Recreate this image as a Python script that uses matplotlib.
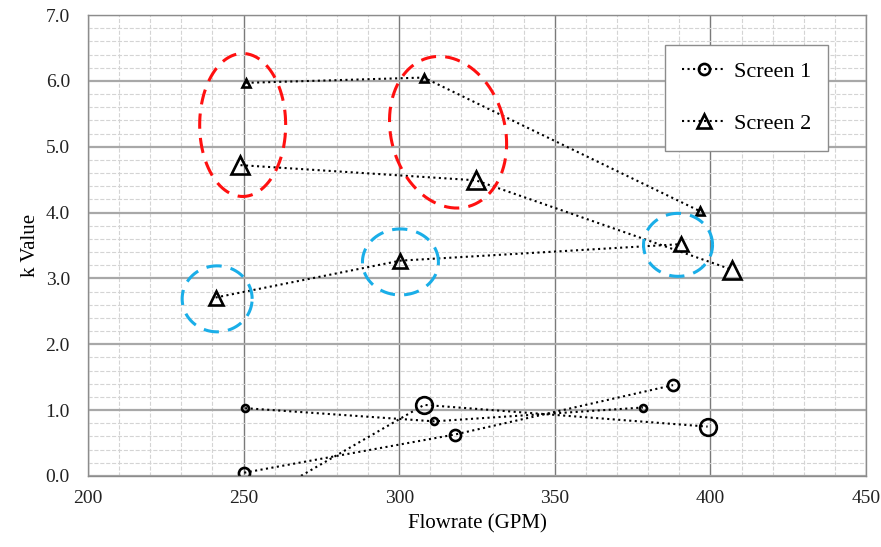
import numpy as np
import matplotlib
matplotlib.use("Agg")
import matplotlib.pyplot as plt
from matplotlib.ticker import MultipleLocator, FormatStrFormatter

plt.rcParams['font.family'] = ['Liberation Serif', 'DejaVu Serif']

# Screen 1 (circles), three runs with different marker sizes
s1_small_x = [250.5, 311.2, 378.3]
s1_small_k = [1.03, 0.83, 1.04]
s1_mid_x = [250.2, 317.9, 388.0]
s1_mid_k = [0.05, 0.63, 1.38]
s1_big_x = [250.0, 308.0, 399.1]
s1_big_k = [-0.50, 1.08, 0.75]

# Screen 2 (triangles)
s2_small_x = [250.8, 307.9, 396.7]
s2_small_k = [5.97, 6.05, 4.02]
s2_mid_x = [241.0, 300.4, 390.4]
s2_mid_k = [2.71, 3.27, 3.52]
s2_big_x = [249.0, 324.6, 407.1]
s2_big_k = [4.72, 4.49, 3.13]

# highlight ellipses: center (GPM, k), width/height in pixels, angle
red_rings = [((249.7, 5.33), 86, 143, 0), ((315.7, 5.22), 114, 154, 15)]
blue_rings = [((241.5, 2.69), 70, 66, 0), ((300.4, 3.25), 76, 66, 0), ((389.6, 3.51), 69, 63, 0)]

fig = plt.figure(figsize=(8.81, 5.47), dpi=100)
ax = fig.add_axes([88/881, 71/547, (866-88)/881, (476-15)/547])

xmin, xmax, ymin, ymax = 200, 450, 0, 7
ax.set_xlim(xmin, xmax)
ax.set_ylim(ymin, ymax)

line_kw = dict(color='black', linestyle=':', linewidth=1.5, markerfacecolor='none',
               markeredgecolor='black', markeredgewidth=1.9)

ax.plot(s1_small_x, s1_small_k, marker='o', markersize=5, **line_kw)
ax.plot(s1_mid_x, s1_mid_k, marker='o', markersize=8, label='Screen 1', **line_kw)
ax.plot(s1_big_x, s1_big_k, marker='o', markersize=12, **line_kw)

ax.plot(s2_small_x, s2_small_k, marker='^', markersize=6, **line_kw)
ax.plot(s2_mid_x, s2_mid_k, marker='^', markersize=10, label='Screen 2', **line_kw)
ax.plot(s2_big_x, s2_big_k, marker='^', markersize=13, **line_kw)

# ellipses drawn in pixel space so the tilt looks right
ax_w_px = (866 - 88)
ax_h_px = (476 - 15)
ppx = ax_w_px / (xmax - xmin)
ppy = ax_h_px / (ymax - ymin)
t = np.linspace(0, 2*np.pi, 300)

def ring(center, w, h, ang, color):
    a = np.deg2rad(ang)
    px = (w/2)*np.cos(t)
    py = (h/2)*np.sin(t)
    rx = px*np.cos(a) - py*np.sin(a)
    ry = px*np.sin(a) + py*np.cos(a)
    ax.plot(center[0] + rx/ppx, center[1] + ry/ppy, color=color, linewidth=2.2,
            linestyle=(0, (5, 3)), zorder=5)

for c, w, h, ang in red_rings:
    ring(c, w, h, ang, '#ff1010')
for c, w, h, ang in blue_rings:
    ring(c, w, h, ang, '#1aaee8')

# grid
ax.xaxis.set_major_locator(MultipleLocator(50))
ax.xaxis.set_minor_locator(MultipleLocator(10))
ax.yaxis.set_major_locator(MultipleLocator(1))
ax.yaxis.set_minor_locator(MultipleLocator(0.2))
ax.yaxis.set_major_formatter(FormatStrFormatter('%.1f'))
ax.grid(which='minor', color='#d4d4d4', linestyle='--', linewidth=0.8)
ax.grid(which='major', axis='x', color='#7a7a7a', linewidth=1.0)
ax.grid(which='major', axis='y', color='#a8a8a8', linewidth=1.6)
ax.set_axisbelow(True)
ax.tick_params(which='both', length=0, labelsize=14, colors='#222222')
ax.tick_params(axis='x', pad=10)
ax.tick_params(axis='y', pad=13)
for sp in ax.spines.values():
    sp.set_color('#8c8c8c')
    sp.set_linewidth(1.0)

ax.set_xlabel('Flowrate (GPM)', fontsize=15, labelpad=5)
ax.set_ylabel('k Value', fontsize=15, labelpad=4)

leg = ax.legend(loc='upper right', bbox_to_anchor=(0.951, 0.935), borderaxespad=0,
                fontsize=16, labelspacing=1.4, handlelength=2.0, handletextpad=0.35,
                borderpad=0.75, fancybox=False, framealpha=1, edgecolor='#8c8c8c')
leg.get_frame().set_linewidth(1.0)

fig.savefig('out.png', dpi=100)
